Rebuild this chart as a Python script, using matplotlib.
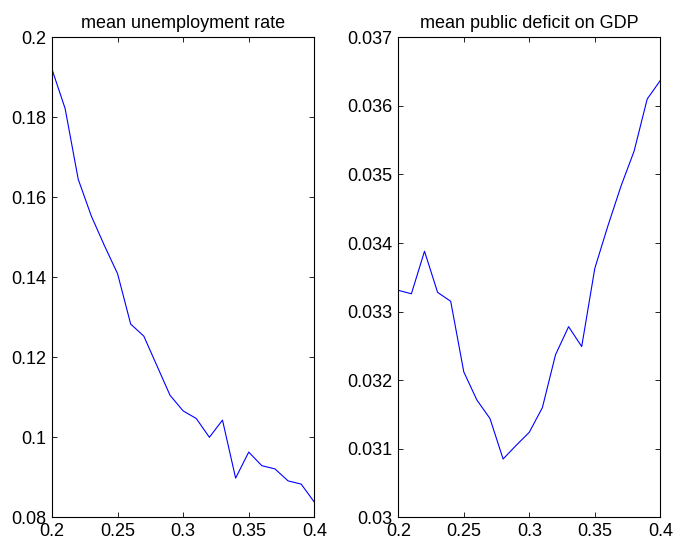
import matplotlib
matplotlib.use("Agg")
import matplotlib.pyplot as plt
import numpy as np

plt.rcParams['font.family'] = ['Liberation Sans', 'DejaVu Sans']

x = [0.20, 0.21, 0.22, 0.23, 0.24, 0.25, 0.26, 0.27, 0.28, 0.29, 0.30,
     0.31, 0.32, 0.33, 0.34, 0.35, 0.36, 0.37, 0.38, 0.39, 0.40]

unemployment = [0.1920, 0.1822, 0.1645, 0.1553, 0.1479, 0.1409, 0.1283,
                0.1253, 0.1179, 0.1105, 0.1066, 0.1047, 0.1000, 0.1043,
                0.0898, 0.0963, 0.0929, 0.0921, 0.0891, 0.0883, 0.0838]

deficit = [0.03331, 0.03326, 0.03388, 0.03328, 0.03315, 0.03212, 0.03171,
           0.03144, 0.03085, 0.03105, 0.03124, 0.03160, 0.03237, 0.03278,
           0.03249, 0.03363, 0.03425, 0.03483, 0.03534, 0.03610, 0.03637]

titles = ["mean unemployment rate", "mean public deficit on GDP"]
xticks = [0.2, 0.25, 0.3, 0.35, 0.4]
xticklabels = ["0.2", "0.25", "0.3", "0.35", "0.4"]
yticks_left = [0.08, 0.1, 0.12, 0.14, 0.16, 0.18, 0.2]
yticklabels_left = ["0.08", "0.1", "0.12", "0.14", "0.16", "0.18", "0.2"]
yticks_right = [0.030, 0.031, 0.032, 0.033, 0.034, 0.035, 0.036, 0.037]
yticklabels_right = ["0.03", "0.031", "0.032", "0.033", "0.034", "0.035",
                     "0.036", "0.037"]

W, H = 673, 542
fig = plt.figure(figsize=(W / 100, H / 100), dpi=100)

ax1 = fig.add_axes([52 / W, (H - 517.3) / H, 262.3 / W, 480 / H])
ax2 = fig.add_axes([398.3 / W, (H - 517.3) / H, 262 / W, 480 / H])

panels = [
    (ax1, unemployment, (0.08, 0.2), yticks_left, yticklabels_left, titles[0]),
    (ax2, deficit, (0.030, 0.037), yticks_right, yticklabels_right, titles[1]),
]

for ax, y, ylim, yt, ytl, title in panels:
    ax.plot(x, y, color=(0, 0, 1), lw=0.8)
    ax.set_xlim(0.2, 0.4)
    ax.set_ylim(*ylim)
    ax.set_xticks(xticks)
    ax.set_xticklabels(xticklabels)
    ax.set_yticks(yt)
    ax.set_yticklabels(ytl)
    ax.tick_params(direction='in', top=True, right=True, length=3.6,
                   width=0.6, labelsize=13, colors='black')
    ax.tick_params(axis='x', pad=4)
    ax.tick_params(axis='y', pad=4)
    for s in ax.spines.values():
        s.set_linewidth(0.8)
    ax.set_title(title, fontsize=13, pad=7)

fig.savefig("out.png", dpi=100)
